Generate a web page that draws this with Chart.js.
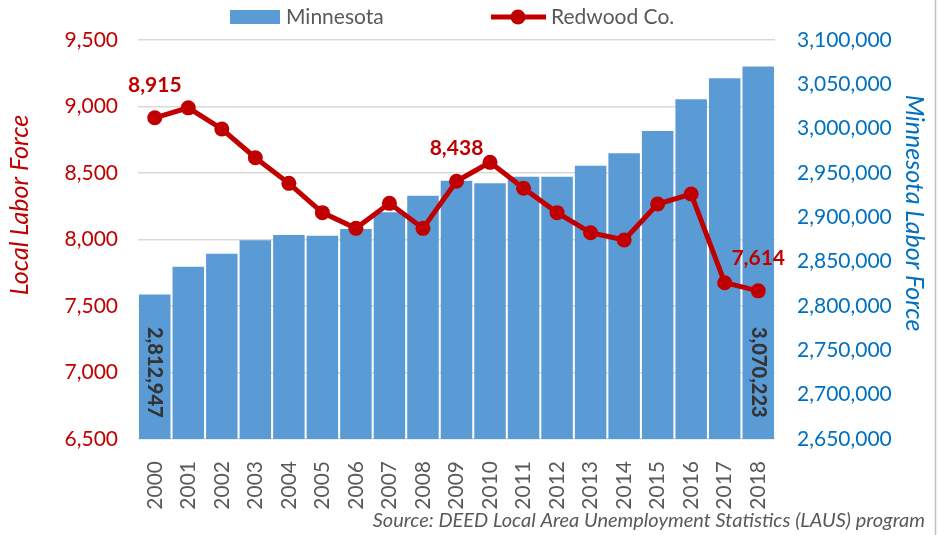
<!DOCTYPE html>
<html>
<head>
<meta charset="utf-8">
<script src="https://cdn.jsdelivr.net/npm/chart.js@4"></script>
<style>
  body { margin: 0; background: #fff; }
  #wrap { width: 939px; height: 535px; }
</style>
</head>
<body>
<div id="wrap"><canvas id="laborChart" width="939" height="535"></canvas></div>
<script>
let years = ['2000', '2001', '2002', '2003', '2004', '2005', '2006', '2007', '2008', '2009',
             '2010', '2011', '2012', '2013', '2014', '2015', '2016', '2017', '2018'];
let minnesota = [2812947, 2844300, 2859000, 2874100, 2880100, 2879300, 2886900, 2905700, 2924400, 2941300,
                 2938400, 2945800, 2945900, 2958200, 2972200, 2997400, 3033100, 3056800, 3070223];
let redwood = [8915, 8990, 8831, 8615, 8422, 8202, 8084, 8272, 8084, 8438,
               8580, 8385, 8202, 8051, 7996, 8267, 8342, 7675, 7614];
let barLabelIdx = [0, 18];
let lineLabelIdx = [0, 9, 18];

let red = '#C00000';
let blue = '#0070C0';
let barBlue = '#5B9BD5';
let gray = '#595959';
let font = 'Lato';

let fmt = v => v.toLocaleString('en-US');

// labels, legend, axis titles and source line
let extras = {
  id: 'extras',
  afterDatasetsDraw(chart) {
    let ctx = chart.ctx;
    let barMeta = chart.getDatasetMeta(0);
    let lineMeta = chart.getDatasetMeta(1);
    ctx.save();
    ctx.fillStyle = '#333333';
    ctx.font = '900 20px ' + font;
    ctx.textAlign = 'left';
    ctx.textBaseline = 'middle';
    barLabelIdx.forEach(i => {
      let el = barMeta.data[i];
      ctx.save();
      ctx.translate(el.x, 327);
      ctx.rotate(Math.PI / 2);
      ctx.fillText(fmt(minnesota[i]), 0, 0);
      ctx.restore();
    });
    ctx.fillStyle = red;
    ctx.font = 'bold 21px ' + font;
    ctx.textAlign = 'center';
    lineLabelIdx.forEach(i => {
      let el = lineMeta.data[i];
      ctx.fillText(fmt(redwood[i]), el.x, el.y - 33);
    });
    ctx.restore();
  },
  afterDraw(chart) {
    let ctx = chart.ctx;
    ctx.save();
    // legend
    ctx.fillStyle = barBlue;
    ctx.fillRect(230, 10, 50, 14);
    ctx.fillStyle = gray;
    ctx.font = '21px ' + font;
    ctx.textBaseline = 'middle';
    ctx.textAlign = 'left';
    ctx.fillText('Minnesota', 286, 17);
    ctx.strokeStyle = red;
    ctx.lineWidth = 5;
    ctx.beginPath();
    ctx.moveTo(491, 17);
    ctx.lineTo(546, 17);
    ctx.stroke();
    ctx.fillStyle = red;
    ctx.beginPath();
    ctx.arc(518, 17, 7.5, 0, Math.PI * 2);
    ctx.fill();
    ctx.fillStyle = gray;
    ctx.fillText('Redwood Co.', 551, 17);

    // axis titles
    ctx.textAlign = 'center';
    ctx.font = 'italic 25px ' + font;
    ctx.fillStyle = red;
    ctx.save();
    ctx.translate(20, 205);
    ctx.rotate(-Math.PI / 2);
    ctx.fillText('Local Labor Force', 0, 0);
    ctx.restore();
    ctx.fillStyle = blue;
    ctx.save();
    ctx.translate(914, 213);
    ctx.rotate(Math.PI / 2);
    ctx.fillText('Minnesota Labor Force', 0, 0);
    ctx.restore();

    // source
    ctx.textAlign = 'right';
    ctx.font = 'italic 20px ' + font;
    ctx.fillStyle = gray;
    ctx.fillText('Source: DEED Local Area Unemployment Statistics (LAUS) program', 925, 521);

    // frame edge on the right
    ctx.strokeStyle = '#BFBFBF';
    ctx.lineWidth = 1.5;
    ctx.beginPath();
    ctx.moveTo(935.5, 0);
    ctx.lineTo(935.5, 535);
    ctx.stroke();
    ctx.restore();
  }
};

new Chart(document.getElementById('laborChart'), {
  data: {
    labels: years,
    datasets: [{
      type: 'bar',
      label: 'Minnesota',
      data: minnesota,
      yAxisID: 'y1',
      backgroundColor: barBlue,
      barPercentage: 0.94,
      categoryPercentage: 1,
      order: 2
    }, {
      type: 'line',
      label: 'Redwood Co.',
      data: redwood,
      yAxisID: 'y',
      borderColor: red,
      backgroundColor: red,
      borderWidth: 5,
      pointRadius: 7.5,
      pointHoverRadius: 7.5,
      pointBackgroundColor: red,
      pointBorderWidth: 0,
      tension: 0,
      order: 1
    }]
  },
  options: {
    responsive: false,
    animation: false,
    layout: { padding: { top: 40, left: 0, right: 0, bottom: 0 } },
    plugins: {
      legend: { display: false },
      tooltip: { enabled: false }
    },
    scales: {
      x: {
        grid: { display: false },
        border: { display: false },
        ticks: {
          color: gray,
          font: { family: font, size: 21 },
          minRotation: 90,
          maxRotation: 90,
          padding: 14
        },
        afterFit: s => { s.height = 96; }
      },
      y: {
        position: 'left',
        min: 6500,
        max: 9500,
        grid: { color: '#D9D9D9', lineWidth: 1.5, drawTicks: false },
        border: { display: false },
        ticks: {
          stepSize: 500,
          color: red,
          padding: 20,
          font: { family: font, size: 21 },
          callback: v => fmt(v)
        },
        afterFit: s => { s.width = 138; }
      },
      y1: {
        position: 'right',
        min: 2650000,
        max: 3100000,
        grid: { display: false, drawTicks: false },
        border: { display: false },
        ticks: {
          stepSize: 50000,
          color: blue,
          padding: 22,
          font: { family: font, size: 21 },
          callback: v => fmt(v)
        },
        afterFit: s => { s.width = 164; }
      }
    }
  },
  plugins: [extras]
});
</script>
</body>
</html>
